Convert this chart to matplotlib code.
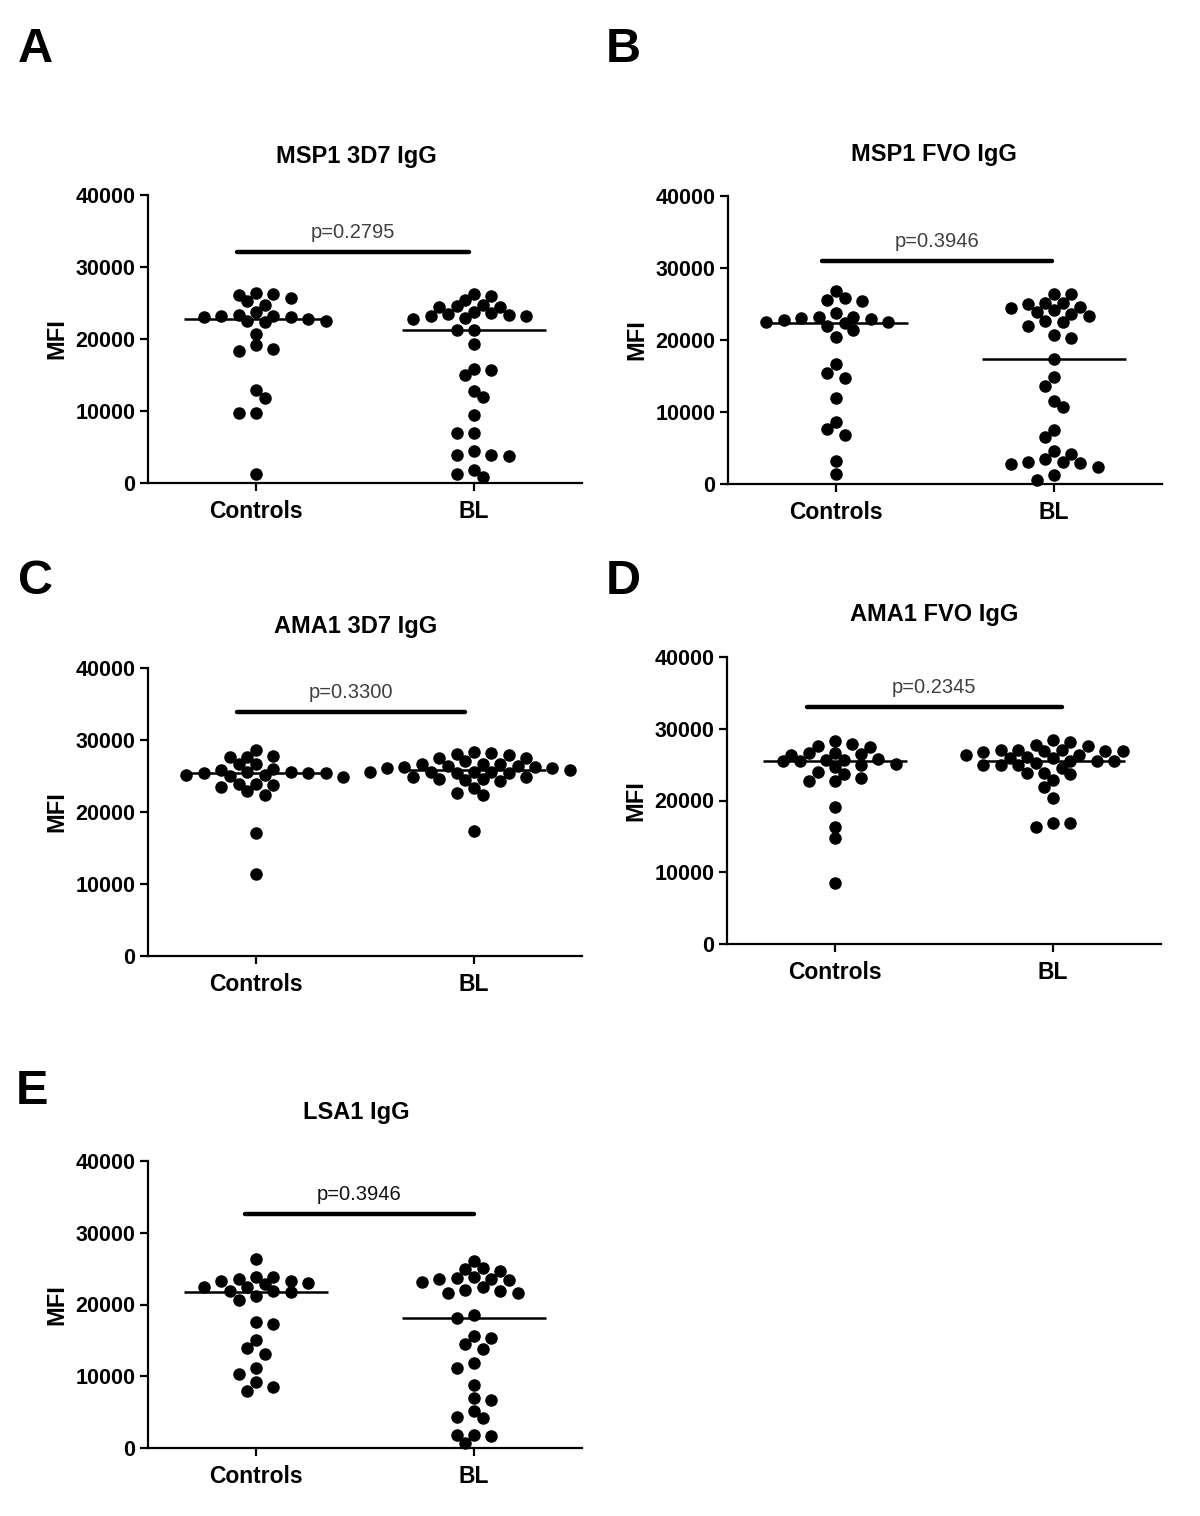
#!/usr/bin/env python3
# -*- coding: utf-8 -*-

import numpy as np
import matplotlib
matplotlib.use('Agg')
import matplotlib.pyplot as plt

# --- data (MFI values per subject) ---
groups = ['Controls', 'BL']
titles = ['MSP1 3D7 IgG', 'MSP1 FVO IgG', 'AMA1 3D7 IgG', 'AMA1 FVO IgG', 'LSA1 IgG']
letters = ['A', 'B', 'C', 'D', 'E']
p_values = ['0.2795', '0.3946', '0.3300', '0.2345', '0.3946']
bar_levels = [32100, 31000, 33900, 33050, 32650]
y_ticks = [0, 10000, 20000, 30000, 40000]

msp1_3d7_controls = [26300, 26400, 26150, 25700, 25250, 24700, 23750, 23150, 23000, 23350,
                     23250, 22800, 23000, 22450, 22300, 22450, 20650, 18600, 18400, 19100,
                     12950, 11800, 9700, 9700, 1300]
msp1_3d7_bl = [26300, 26000, 25450, 24750, 24450, 24450, 24550, 23500, 23250, 23700,
               23250, 23400, 23600, 22850, 22800, 21200, 21200, 19300, 15750, 15900,
               14950, 12800, 11950, 9400, 6950, 6950, 4400, 3950, 3700, 3950,
               1850, 1300, 850]
msp1_fvo_controls = [26850, 25850, 25450, 25550, 23700, 22800, 22450, 23250, 22000, 23000,
                     22900, 23250, 22300, 22550, 21400, 20450, 16650, 15350, 14700, 11950,
                     7650, 8550, 6850, 3150, 1400]
msp1_fvo_bl = [26400, 26400, 25000, 25100, 25100, 24450, 23850, 24550, 24150, 23400,
               23600, 22700, 22550, 22000, 20250, 20700, 17350, 14900, 13650, 11500,
               10650, 7550, 6550, 4550, 3500, 3000, 2400, 2850, 3100, 4150,
               2800, 1250, 550]
ama1_3d7_controls = [28600, 27800, 27700, 27700, 26600, 26600, 25850, 25450, 25450, 26000,
                     25600, 25600, 25150, 25000, 24800, 25150, 25450, 23900, 23500, 23700,
                     23900, 22950, 22350, 17150, 11350]
ama1_3d7_bl = [28400, 28000, 27900, 28250, 27450, 27450, 26400, 26300, 26650, 26650,
               26400, 26650, 27050, 26300, 25600, 25600, 25350, 25600, 25850, 26050,
               26050, 25600, 24600, 24350, 24800, 24900, 24450, 24650, 23400, 22700,
               22350, 17400, 25350]
ama1_fvo_controls = [28350, 27550, 27850, 27450, 26450, 26600, 26600, 26350, 25800, 25600,
                     25100, 25450, 25450, 25700, 24650, 24900, 23650, 23950, 23150, 22750,
                     22750, 19100, 16350, 14750, 8550]
ama1_fvo_bl = [28450, 28200, 27750, 27550, 27100, 26900, 26900, 26800, 26900, 27100,
               27100, 26100, 26300, 26350, 25000, 24550, 25450, 25450, 25550, 25900,
               25000, 25200, 23700, 23900, 23900, 22900, 21950, 20400, 16850, 16350,
               16850, 25950, 24900]
lsa1_controls = [26350, 23800, 23500, 23250, 23800, 22500, 23000, 22900, 23250, 22500,
                 21950, 21700, 20650, 21150, 21850, 17550, 17350, 15050, 13150, 13900,
                 11100, 10350, 9150, 8000, 8450]
lsa1_bl = [26050, 25000, 24650, 25100, 23350, 23800, 23500, 23500, 23650, 23100,
           22400, 22000, 21650, 21650, 21950, 18550, 18100, 15350, 13800, 14550,
           15600, 11850, 11100, 8800, 6650, 6900, 4350, 4200, 5100, 1750,
           700, 1650, 1850]

# --- layout (pixels on a 1200x1516 canvas) ---
W, H = 1200, 1516
# left, top, bottom of each axes; all axes are 434 px wide
panel_px = [(148, 195, 483), (728, 196, 484), (148, 668, 956), (727, 657, 944), (148, 1161, 1448)]
letter_px = [(18, 62), (606, 62), (18, 594), (606, 594), (16, 1104)]
title_px = [(356, 157), (934, 155), (356, 627), (934, 614), (356, 1113)]
bar_x = [(-0.087, 0.977), (-0.064, 0.99), (-0.087, 0.96), (-0.128, 1.04), (-0.05, 1.0)]
p_colors = ['#404040', '#404040', '#404040', '#404040', '#111111']

FONT = 'Liberation Sans'


def swarm(ax, center, values, h=8.7, dmin=10.5):
    # greedy dot-plot layout on a half-step grid, done in pixel space
    values = np.asarray(values, dtype=float)
    pts = ax.transData.transform(np.column_stack([np.full(len(values), center), values]))
    order = np.argsort(values)[::-1]
    placed = []
    xs = np.zeros(len(values))
    toggle = 1
    for i in order:
        x0, y0 = pts[i]
        k = 0
        chosen = None
        while chosen is None:
            cands = [0] if k == 0 else [toggle * k, -toggle * k]
            for c in cands:
                xc = x0 + c * h
                if all((xc - px) ** 2 + (y0 - py) ** 2 >= dmin ** 2 for px, py in placed):
                    chosen = xc
                    break
            k += 1
        if k > 1:
            toggle = -toggle
        placed.append((chosen, y0))
        xs[i] = chosen
    back = ax.transData.inverted().transform(np.column_stack([xs, pts[:, 1]]))
    return back[:, 0]


def main():
    plt.rcParams['font.family'] = [FONT, 'DejaVu Sans']
    fig = plt.figure(figsize=(W / 100, H / 100), dpi=100)

    data = [(msp1_3d7_controls, msp1_3d7_bl),
            (msp1_fvo_controls, msp1_fvo_bl),
            (ama1_3d7_controls, ama1_3d7_bl),
            (ama1_fvo_controls, ama1_fvo_bl),
            (lsa1_controls, lsa1_bl)]

    for n, (left, top, bottom) in enumerate(panel_px):
        ax = fig.add_axes([left / W, 1 - bottom / H, 434 / W, (bottom - top) / H])
        ax.set_xlim(-0.495, 1.495)
        ax.set_ylim(0, 40000)
        for s in ['top', 'right']:
            ax.spines[s].set_visible(False)
        for s in ['left', 'bottom']:
            ax.spines[s].set_linewidth(1.6)
        ax.set_yticks(y_ticks)
        ax.set_yticklabels([str(t) for t in y_ticks], fontsize=15.5, fontweight='bold')
        ax.set_xticks([0, 1])
        ax.set_xticklabels(groups, fontsize=16.5, fontweight='bold')
        ax.tick_params(axis='both', direction='out', length=6, width=1.6)
        ax.tick_params(axis='y', pad=3)
        ax.tick_params(axis='x', pad=6)

        for g, vals in enumerate(data[n]):
            xs = swarm(ax, g, vals)
            ax.plot(xs, vals, 'o', color='black', ms=8, mec='black', clip_on=False, zorder=3)
            ax.hlines(np.median(vals), g - 0.33, g + 0.33, color='black', lw=1.8, zorder=4)

        x0, x1 = bar_x[n]
        ax.plot([x0, x1], [bar_levels[n], bar_levels[n]], color='black', lw=3.2,
                solid_capstyle='round', clip_on=False)
        ax.annotate('p=' + p_values[n], xy=((x0 + x1) / 2, bar_levels[n]),
                    xytext=(0, 7), textcoords='offset points', ha='center', va='bottom',
                    fontsize=14.5, color=p_colors[n])

        ax.text(-91 / 434, 0.5, 'MFI', transform=ax.transAxes, rotation=90,
                ha='center', va='center', fontsize=17, fontweight='bold')

        tx, ty = title_px[n]
        fig.text(tx / W, 1 - ty / H, titles[n], ha='center', va='center',
                 fontsize=17, fontweight='bold')
        lx, ly = letter_px[n]
        fig.text(lx / W, 1 - ly / H, letters[n], ha='left', va='baseline',
                 fontsize=35, fontweight='bold')

    fig.savefig('out.png', dpi=100, facecolor='white')


if __name__ == '__main__':
    main()
